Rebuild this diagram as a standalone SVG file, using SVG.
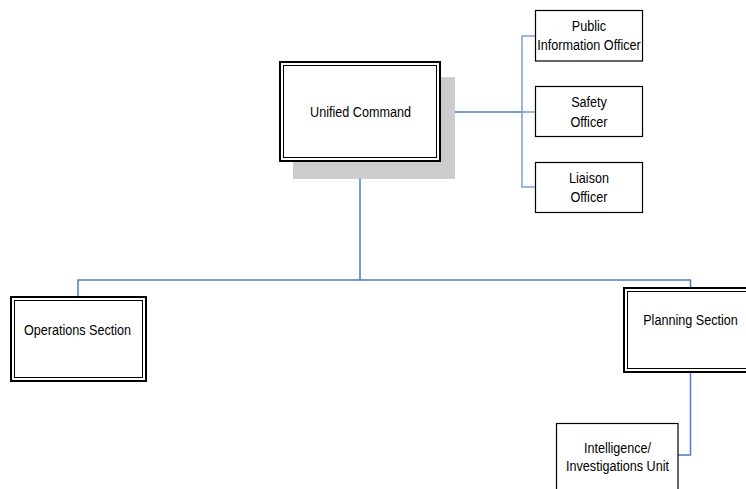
<svg xmlns="http://www.w3.org/2000/svg" width="746" height="489" viewBox="0 0 746 489">
<style>
.bg{fill:#ffffff}
.box{fill:#ffffff;stroke:#000000;stroke-width:1.2}
.outer{fill:#ffffff;stroke:#000000;stroke-width:2}
.inner{fill:none;stroke:#000000;stroke-width:1}
.shadow{fill:#cccccc}
.conn{fill:none;stroke:#4a7cc6;stroke-width:1.5}
.lt{fill:none;stroke:#7aa0d8;stroke-width:1.5}
text{font-family:"Liberation Sans",Arial,sans-serif;font-size:15.5px;fill:#000000;text-anchor:middle}
</style>
<rect class="bg" x="0" y="0" width="746" height="489"/>
<g id="connectors">
  <path class="conn" d="M441,112 H522"/>
  <path class="lt" d="M535,36 H522 V187 H535 M522,112 H535"/>
  <path class="conn" d="M360,162 V280 M78,297 V280 H690.5 V288"/>
  <path class="conn" d="M690.5,372 V455 H678"/>
</g>
<g id="unified-command">
  <rect class="shadow" x="293" y="77" width="162" height="102"/>
  <rect class="outer" x="280" y="62" width="160" height="99"/>
  <rect class="inner" x="283.5" y="65.5" width="153" height="92"/>
  <text x="360.5" y="117" textLength="100.8" lengthAdjust="spacingAndGlyphs">Unified Command</text>
</g>
<g id="public-information-officer">
  <rect class="box" x="535.5" y="10.5" width="107" height="50.5"/>
  <text x="589" y="30.5" textLength="34.3" lengthAdjust="spacingAndGlyphs">Public</text>
  <text x="589" y="50" textLength="103.6" lengthAdjust="spacingAndGlyphs">Information Officer</text>
</g>
<g id="safety-officer">
  <rect class="box" x="535.5" y="86.5" width="107" height="50"/>
  <text x="589" y="107" textLength="35.7" lengthAdjust="spacingAndGlyphs">Safety</text>
  <text x="589" y="126.5" textLength="37.1" lengthAdjust="spacingAndGlyphs">Officer</text>
</g>
<g id="liaison-officer">
  <rect class="box" x="535.5" y="162.5" width="107" height="50"/>
  <text x="589" y="183" textLength="39.9" lengthAdjust="spacingAndGlyphs">Liaison</text>
  <text x="589" y="202" textLength="37.1" lengthAdjust="spacingAndGlyphs">Officer</text>
</g>
<g id="operations-section">
  <rect class="outer" x="11" y="297" width="135" height="84"/>
  <rect class="inner" x="14.5" y="300.5" width="128" height="77"/>
  <text x="77.5" y="335" textLength="107.2" lengthAdjust="spacingAndGlyphs">Operations Section</text>
</g>
<g id="planning-section">
  <rect class="outer" x="624" y="288" width="130" height="84"/>
  <rect class="inner" x="627.5" y="291.5" width="130" height="77"/>
  <text x="690.5" y="324.5" textLength="94.6" lengthAdjust="spacingAndGlyphs">Planning Section</text>
</g>
<g id="intelligence-investigations-unit">
  <rect class="box" x="556.5" y="423.5" width="121.5" height="70"/>
  <text x="617.5" y="452.5" textLength="67.2" lengthAdjust="spacingAndGlyphs">Intelligence/</text>
  <text x="617.5" y="471" textLength="102.9" lengthAdjust="spacingAndGlyphs">Investigations Unit</text>
</g>
</svg>
